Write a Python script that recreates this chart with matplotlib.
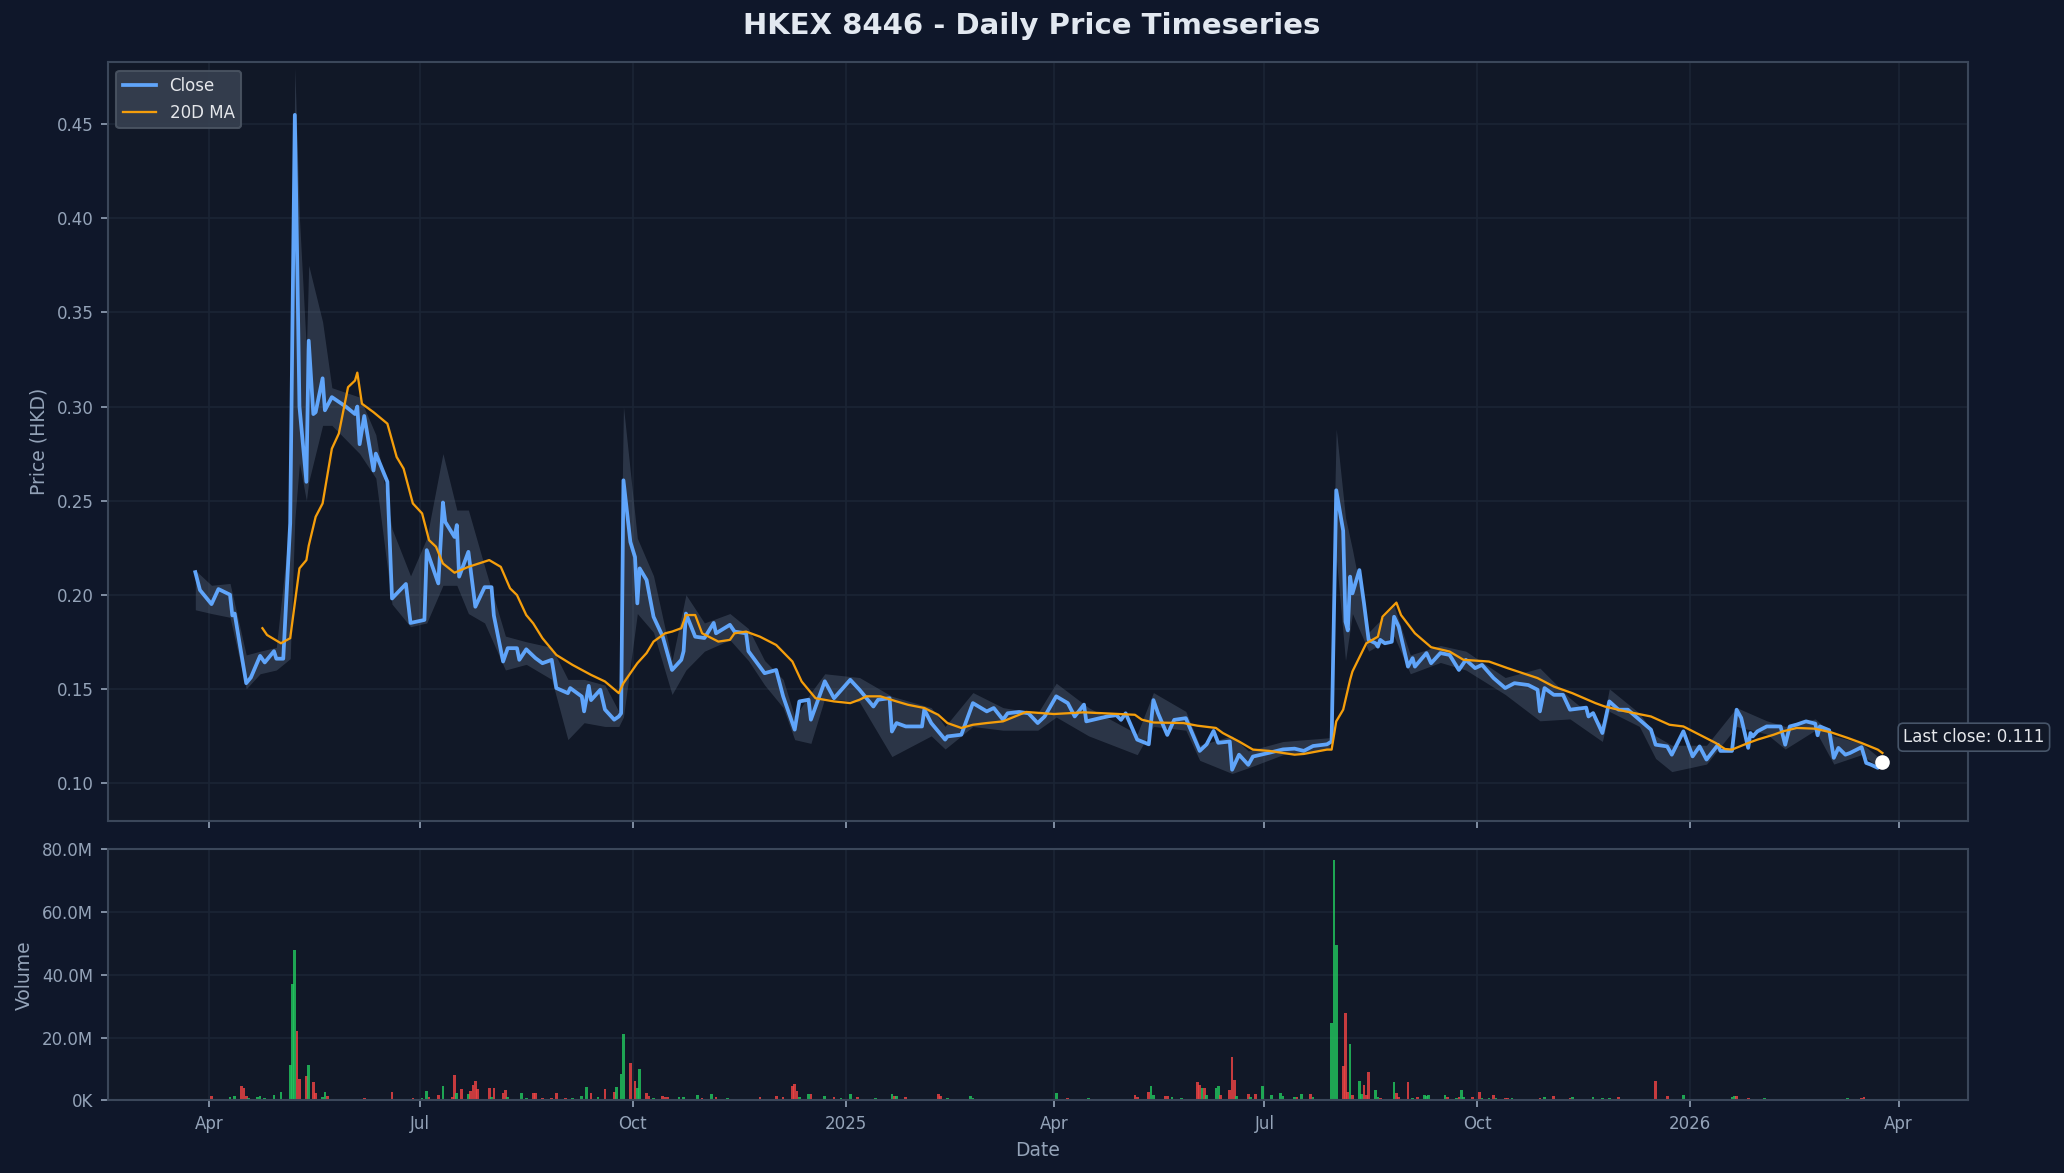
import pandas as pd
import matplotlib
matplotlib.use('Agg')
import matplotlib.pyplot as plt
import matplotlib.dates as mdates
from matplotlib.ticker import FuncFormatter

# ---- data ----
close_dates = [
    '2024-03-26', '2024-03-28', '2024-04-02', '2024-04-05', '2024-04-10', '2024-04-11', '2024-04-12',
    '2024-04-17', '2024-04-19', '2024-04-23', '2024-04-25', '2024-04-29', '2024-04-30', '2024-05-03',
    '2024-05-06', '2024-05-08', '2024-05-09', '2024-05-10', '2024-05-13', '2024-05-14', '2024-05-16',
    '2024-05-17', '2024-05-20', '2024-05-21', '2024-05-24', '2024-05-30', '2024-06-03', '2024-06-04',
    '2024-06-05', '2024-06-07', '2024-06-11', '2024-06-12', '2024-06-17', '2024-06-19', '2024-06-25',
    '2024-06-27', '2024-07-03', '2024-07-04', '2024-07-09', '2024-07-11', '2024-07-12', '2024-07-16',
    '2024-07-17', '2024-07-18', '2024-07-22', '2024-07-25', '2024-07-29', '2024-08-01', '2024-08-02',
    '2024-08-06', '2024-08-08', '2024-08-12', '2024-08-13', '2024-08-16', '2024-08-20', '2024-08-23',
    '2024-08-27', '2024-08-29', '2024-09-03', '2024-09-04', '2024-09-09', '2024-09-10', '2024-09-12',
    '2024-09-13', '2024-09-17', '2024-09-19', '2024-09-23', '2024-09-25', '2024-09-26', '2024-09-27',
    '2024-09-30', '2024-10-02', '2024-10-03', '2024-10-04', '2024-10-07', '2024-10-10', '2024-10-14',
    '2024-10-18', '2024-10-22', '2024-10-23', '2024-10-24', '2024-10-28', '2024-11-01', '2024-11-05',
    '2024-11-06', '2024-11-12', '2024-11-14', '2024-11-19', '2024-11-20', '2024-11-27', '2024-12-02',
    '2024-12-05', '2024-12-10', '2024-12-12', '2024-12-16', '2024-12-17', '2024-12-23', '2024-12-27',
    '2025-01-03', '2025-01-07', '2025-01-13', '2025-01-15', '2025-01-20', '2025-01-21', '2025-01-23',
    '2025-01-27', '2025-02-03', '2025-02-04', '2025-02-07', '2025-02-13', '2025-02-14', '2025-02-20',
    '2025-02-25', '2025-03-03', '2025-03-06', '2025-03-10', '2025-03-12', '2025-03-17', '2025-03-21',
    '2025-03-25', '2025-03-28', '2025-04-02', '2025-04-07', '2025-04-10', '2025-04-14', '2025-04-15',
    '2025-04-24', '2025-04-28', '2025-04-30', '2025-05-02', '2025-05-07', '2025-05-12', '2025-05-14',
    '2025-05-16', '2025-05-20', '2025-05-23', '2025-05-28', '2025-06-03', '2025-06-06', '2025-06-09',
    '2025-06-11', '2025-06-16', '2025-06-17', '2025-06-20', '2025-06-24', '2025-06-26', '2025-07-03',
    '2025-07-09', '2025-07-14', '2025-07-18', '2025-07-22', '2025-07-28', '2025-07-30', '2025-07-31',
    '2025-08-01', '2025-08-04', '2025-08-05', '2025-08-06', '2025-08-07', '2025-08-08', '2025-08-11',
    '2025-08-13', '2025-08-15', '2025-08-18', '2025-08-19', '2025-08-20', '2025-08-22', '2025-08-25',
    '2025-08-26', '2025-08-28', '2025-09-01', '2025-09-03', '2025-09-04', '2025-09-09', '2025-09-11',
    '2025-09-15', '2025-09-19', '2025-09-23', '2025-09-26', '2025-09-30', '2025-10-03', '2025-10-08',
    '2025-10-13', '2025-10-17', '2025-10-23', '2025-10-27', '2025-10-28', '2025-10-30', '2025-11-03',
    '2025-11-07', '2025-11-10', '2025-11-17', '2025-11-18', '2025-11-20', '2025-11-24', '2025-11-27',
    '2025-12-01', '2025-12-05', '2025-12-10', '2025-12-15', '2025-12-17', '2025-12-22', '2025-12-24',
    '2025-12-29', '2026-01-02', '2026-01-05', '2026-01-08', '2026-01-13', '2026-01-14', '2026-01-19',
    '2026-01-21', '2026-01-23', '2026-01-26', '2026-01-27', '2026-01-28', '2026-01-30', '2026-02-03',
    '2026-02-06', '2026-02-09', '2026-02-11', '2026-02-13', '2026-02-16', '2026-02-20', '2026-02-24',
    '2026-02-25', '2026-02-26', '2026-03-02', '2026-03-04', '2026-03-06', '2026-03-09', '2026-03-11',
    '2026-03-16', '2026-03-18', '2026-03-20', '2026-03-23', '2026-03-25',
]
close_px = [
    0.212, 0.2025, 0.195, 0.203, 0.200, 0.189, 0.190,
    0.153, 0.156, 0.1675, 0.164, 0.170, 0.166, 0.166,
    0.238, 0.455, 0.380, 0.300, 0.260, 0.335, 0.296,
    0.297, 0.315, 0.298, 0.305, 0.300, 0.296, 0.300,
    0.280, 0.295, 0.266, 0.275, 0.260, 0.198, 0.2057,
    0.185, 0.1866, 0.2237, 0.206, 0.249, 0.2387, 0.2307,
    0.237, 0.2096, 0.2228, 0.1936, 0.204, 0.204, 0.189,
    0.1645, 0.1716, 0.1716, 0.1654, 0.171, 0.1663, 0.1636,
    0.1654, 0.1504, 0.1477, 0.1504, 0.1459, 0.138, 0.1516,
    0.144, 0.1495, 0.139, 0.1336, 0.1353, 0.137, 0.2608,
    0.228, 0.220, 0.1954, 0.214, 0.2078, 0.1883, 0.1777,
    0.160, 0.1654, 0.170, 0.190, 0.1777, 0.177, 0.185,
    0.1795, 0.184, 0.1804, 0.1795, 0.170, 0.1583, 0.160,
    0.146, 0.1283, 0.1433, 0.1442, 0.1336, 0.154, 0.145,
    0.1548, 0.1495, 0.1406, 0.1442, 0.145, 0.1273, 0.1318,
    0.130, 0.130, 0.139, 0.1318, 0.123, 0.1247, 0.1256,
    0.1424, 0.138, 0.1398, 0.1336, 0.137, 0.1377, 0.137,
    0.1318, 0.1353, 0.146, 0.1424, 0.1353, 0.1416, 0.1327,
    0.1353, 0.136, 0.1335, 0.137, 0.123, 0.1205, 0.144,
    0.137, 0.1255, 0.1335, 0.1344, 0.117, 0.1205, 0.1276,
    0.1213, 0.122, 0.107, 0.115, 0.1096, 0.114, 0.116,
    0.1178, 0.1182, 0.117, 0.1196, 0.1205, 0.122, 0.190,
    0.2555, 0.234, 0.1857, 0.181, 0.2096, 0.2007, 0.2131,
    0.1954, 0.176, 0.1742, 0.1724, 0.176, 0.1742, 0.175,
    0.1883, 0.183, 0.1618, 0.1663, 0.1618, 0.169, 0.1636,
    0.169, 0.168, 0.160, 0.1654, 0.161, 0.1627, 0.1557,
    0.1504, 0.153, 0.152, 0.1495, 0.138, 0.1504, 0.1468,
    0.1468, 0.1389, 0.140, 0.1353, 0.1371, 0.1265, 0.1433,
    0.1389, 0.1389, 0.1336, 0.1283, 0.1203, 0.1194, 0.115,
    0.1274, 0.1141, 0.1194, 0.1124, 0.1203, 0.117, 0.117,
    0.1389, 0.1345, 0.1186, 0.1265, 0.1247, 0.1274, 0.130,
    0.130, 0.130, 0.1203, 0.130, 0.131, 0.1327, 0.1315,
    0.1253, 0.130, 0.128, 0.1133, 0.1186, 0.115, 0.1159,
    0.119, 0.1106, 0.1097, 0.108, 0.111,
]

ma_dates = [
    '2024-04-24', '2024-04-26', '2024-05-02', '2024-05-06', '2024-05-10', '2024-05-13', '2024-05-14',
    '2024-05-17', '2024-05-20', '2024-05-24', '2024-05-27', '2024-05-29', '2024-05-31', '2024-06-03',
    '2024-06-04', '2024-06-06', '2024-06-11', '2024-06-17', '2024-06-21', '2024-06-24', '2024-06-28',
    '2024-07-02', '2024-07-05', '2024-07-08', '2024-07-11', '2024-07-16', '2024-07-22', '2024-07-31',
    '2024-08-05', '2024-08-09', '2024-08-12', '2024-08-16', '2024-08-19', '2024-08-23', '2024-08-29',
    '2024-09-05', '2024-09-13', '2024-09-19', '2024-09-25', '2024-09-27', '2024-10-03', '2024-10-07',
    '2024-10-10', '2024-10-15', '2024-10-18', '2024-10-22', '2024-10-24', '2024-10-28', '2024-10-31',
    '2024-11-07', '2024-11-12', '2024-11-14', '2024-11-19', '2024-11-25', '2024-12-02', '2024-12-09',
    '2024-12-13', '2024-12-19', '2024-12-27', '2025-01-03', '2025-01-07', '2025-01-10', '2025-01-16',
    '2025-01-23', '2025-01-28', '2025-02-04', '2025-02-10', '2025-02-14', '2025-02-20', '2025-02-25',
    '2025-03-03', '2025-03-10', '2025-03-17', '2025-03-20', '2025-04-01', '2025-04-14', '2025-05-06',
    '2025-05-09', '2025-05-14', '2025-05-27', '2025-06-02', '2025-06-10', '2025-06-13', '2025-06-20',
    '2025-06-26', '2025-07-03', '2025-07-14', '2025-07-18', '2025-07-28', '2025-07-30', '2025-08-01',
    '2025-08-04', '2025-08-07', '2025-08-08', '2025-08-14', '2025-08-19', '2025-08-21', '2025-08-27',
    '2025-08-29', '2025-09-04', '2025-09-11', '2025-09-19', '2025-09-25', '2025-10-06', '2025-10-14',
    '2025-10-27', '2025-11-03', '2025-11-11', '2025-11-21', '2025-11-25', '2025-12-04', '2025-12-15',
    '2025-12-23', '2025-12-29', '2026-01-05', '2026-01-12', '2026-01-16', '2026-01-19', '2026-01-26',
    '2026-01-30', '2026-02-06', '2026-02-10', '2026-02-16', '2026-02-24', '2026-03-03', '2026-03-10',
    '2026-03-16', '2026-03-23', '2026-03-25',
]
ma_px = [
    0.1822, 0.1786, 0.1742, 0.1769, 0.214, 0.2184, 0.226,
    0.2414, 0.2485, 0.2776, 0.2856, 0.298, 0.3103, 0.3138,
    0.318, 0.3015, 0.297, 0.2909, 0.2732, 0.267, 0.2485,
    0.2432, 0.229, 0.2255, 0.2166, 0.2117, 0.2148, 0.2184,
    0.2148, 0.2034, 0.1998, 0.1892, 0.1848, 0.1769, 0.168,
    0.1627, 0.1574, 0.1539, 0.1477, 0.153, 0.1636, 0.169,
    0.1751, 0.1795, 0.1804, 0.1822, 0.1892, 0.1892, 0.1795,
    0.1751, 0.176, 0.1795, 0.1804, 0.1777, 0.1733, 0.1645,
    0.1539, 0.145, 0.1433, 0.1424, 0.1442, 0.146, 0.146,
    0.1433, 0.1415, 0.1398, 0.1362, 0.1318, 0.1292, 0.1309,
    0.1318, 0.1327, 0.1362, 0.1377, 0.1366, 0.1375, 0.1362,
    0.1336, 0.1321, 0.1318, 0.1304, 0.1292, 0.1265, 0.122,
    0.1177, 0.117, 0.115, 0.1154, 0.1177, 0.1177, 0.1327,
    0.1389, 0.1548, 0.1592, 0.1742, 0.1777, 0.1883, 0.1958,
    0.1892, 0.1795, 0.1721, 0.1698, 0.1654, 0.1645, 0.161,
    0.1557, 0.1512, 0.1477, 0.1424, 0.1406, 0.138, 0.1353,
    0.1309, 0.130, 0.1256, 0.1212, 0.118, 0.1177, 0.1212,
    0.123, 0.1256, 0.1274, 0.1292, 0.1288, 0.1268, 0.1239,
    0.1212, 0.1177, 0.1159,
]

# daily high/low range (shaded band)
band_dates = [
    '2024-03-26', '2024-04-02', '2024-04-10', '2024-04-17', '2024-04-23', '2024-04-30', '2024-05-06',
    '2024-05-08', '2024-05-10', '2024-05-13', '2024-05-14', '2024-05-20', '2024-05-24', '2024-06-05',
    '2024-06-12', '2024-06-19', '2024-06-27', '2024-07-04', '2024-07-11', '2024-07-17', '2024-07-22',
    '2024-07-29', '2024-08-07', '2024-08-16', '2024-08-27', '2024-09-03', '2024-09-10', '2024-09-19',
    '2024-09-25', '2024-09-27', '2024-10-03', '2024-10-10', '2024-10-18', '2024-10-24', '2024-11-01',
    '2024-11-12', '2024-11-20', '2024-11-27', '2024-12-05', '2024-12-10', '2024-12-17', '2024-12-23',
    '2025-01-07', '2025-01-21', '2025-02-07', '2025-02-13', '2025-02-25', '2025-03-10', '2025-03-25',
    '2025-04-02', '2025-04-16', '2025-05-07', '2025-05-14', '2025-05-28', '2025-06-03', '2025-06-17',
    '2025-06-24', '2025-07-09', '2025-07-29', '2025-08-01', '2025-08-05', '2025-08-08', '2025-08-15',
    '2025-08-26', '2025-09-02', '2025-09-15', '2025-09-26', '2025-10-13', '2025-10-28', '2025-11-10',
    '2025-11-24', '2025-11-27', '2025-12-10', '2025-12-17', '2025-12-24', '2026-01-08', '2026-01-21',
    '2026-02-03', '2026-02-11', '2026-02-24', '2026-03-04', '2026-03-16', '2026-03-25',
]
band_lo = [
    0.192, 0.190, 0.188, 0.150, 0.158, 0.160, 0.166,
    0.240, 0.270, 0.250, 0.260, 0.290, 0.290, 0.275,
    0.262, 0.195, 0.183, 0.185, 0.205, 0.205, 0.190,
    0.185, 0.160, 0.163, 0.155, 0.123, 0.132, 0.130,
    0.130, 0.135, 0.190, 0.180, 0.147, 0.160, 0.170,
    0.176, 0.165, 0.152, 0.140, 0.123, 0.121, 0.145,
    0.143, 0.114, 0.125, 0.118, 0.130, 0.128, 0.128,
    0.135, 0.125, 0.115, 0.130, 0.128, 0.112, 0.105,
    0.108, 0.115, 0.118, 0.220, 0.165, 0.190, 0.170,
    0.178, 0.158, 0.164, 0.160, 0.147, 0.133, 0.134,
    0.122, 0.138, 0.130, 0.113, 0.106, 0.110, 0.130,
    0.126, 0.118, 0.128, 0.110, 0.115, 0.107,
]
band_hi = [
    0.213, 0.205, 0.206, 0.168, 0.170, 0.172, 0.240,
    0.480, 0.400, 0.330, 0.375, 0.345, 0.310, 0.305,
    0.285, 0.235, 0.210, 0.230, 0.275, 0.245, 0.245,
    0.215, 0.178, 0.175, 0.172, 0.155, 0.155, 0.152,
    0.138, 0.300, 0.230, 0.210, 0.165, 0.200, 0.185,
    0.190, 0.182, 0.165, 0.155, 0.135, 0.148, 0.158,
    0.156, 0.146, 0.140, 0.130, 0.148, 0.140, 0.137,
    0.153, 0.140, 0.126, 0.148, 0.138, 0.120, 0.125,
    0.117, 0.122, 0.124, 0.288, 0.241, 0.224, 0.180,
    0.194, 0.168, 0.173, 0.170, 0.156, 0.161, 0.145,
    0.131, 0.150, 0.137, 0.125, 0.120, 0.120, 0.140,
    0.133, 0.130, 0.134, 0.125, 0.121, 0.112,
]

vol_dates = [
    '2024-03-27', '2024-04-02', '2024-04-08', '2024-04-10', '2024-04-12', '2024-04-15', '2024-04-16',
    '2024-04-17', '2024-04-18', '2024-04-22', '2024-04-23', '2024-04-25', '2024-04-29', '2024-05-02',
    '2024-05-06', '2024-05-07', '2024-05-08', '2024-05-09', '2024-05-10', '2024-05-13', '2024-05-14',
    '2024-05-16', '2024-05-17', '2024-05-20', '2024-05-21', '2024-05-22', '2024-05-27', '2024-05-30',
    '2024-06-03', '2024-06-07', '2024-06-13', '2024-06-17', '2024-06-19', '2024-06-26', '2024-06-28',
    '2024-07-02', '2024-07-04', '2024-07-05', '2024-07-09', '2024-07-11', '2024-07-15', '2024-07-16',
    '2024-07-17', '2024-07-19', '2024-07-22', '2024-07-23', '2024-07-24', '2024-07-25', '2024-07-26',
    '2024-07-31', '2024-08-01', '2024-08-02', '2024-08-06', '2024-08-07', '2024-08-08', '2024-08-14',
    '2024-08-16', '2024-08-19', '2024-08-20', '2024-08-23', '2024-08-27', '2024-08-29', '2024-09-02',
    '2024-09-05', '2024-09-09', '2024-09-11', '2024-09-13', '2024-09-16', '2024-09-19', '2024-09-23',
    '2024-09-24', '2024-09-26', '2024-09-27', '2024-09-30', '2024-10-02', '2024-10-03', '2024-10-04',
    '2024-10-07', '2024-10-08', '2024-10-10', '2024-10-14', '2024-10-15', '2024-10-16', '2024-10-21',
    '2024-10-23', '2024-10-29', '2024-10-31', '2024-11-04', '2024-11-06', '2024-11-11', '2024-11-19',
    '2024-11-25', '2024-11-26', '2024-12-02', '2024-12-05', '2024-12-09', '2024-12-10', '2024-12-11',
    '2024-12-12', '2024-12-16', '2024-12-17', '2024-12-23', '2024-12-27', '2024-12-30', '2025-01-03',
    '2025-01-06', '2025-01-14', '2025-01-21', '2025-01-22', '2025-01-23', '2025-01-27', '2025-02-04',
    '2025-02-06', '2025-02-10', '2025-02-11', '2025-02-14', '2025-02-24', '2025-02-25', '2025-03-11',
    '2025-03-24', '2025-03-25', '2025-04-02', '2025-04-07', '2025-04-10', '2025-04-16', '2025-04-24',
    '2025-05-06', '2025-05-07', '2025-05-12', '2025-05-13', '2025-05-14', '2025-05-19', '2025-05-20',
    '2025-05-22', '2025-05-26', '2025-06-02', '2025-06-03', '2025-06-04', '2025-06-05', '2025-06-06',
    '2025-06-10', '2025-06-11', '2025-06-12', '2025-06-16', '2025-06-17', '2025-06-18', '2025-06-19',
    '2025-06-24', '2025-06-25', '2025-06-27', '2025-06-30', '2025-07-04', '2025-07-08', '2025-07-09',
    '2025-07-14', '2025-07-15', '2025-07-17', '2025-07-21', '2025-07-22', '2025-07-28', '2025-07-30',
    '2025-07-31', '2025-08-01', '2025-08-04', '2025-08-05', '2025-08-06', '2025-08-07', '2025-08-08',
    '2025-08-11', '2025-08-12', '2025-08-13', '2025-08-14', '2025-08-15', '2025-08-18', '2025-08-19',
    '2025-08-20', '2025-08-26', '2025-08-27', '2025-08-28', '2025-09-01', '2025-09-03', '2025-09-05',
    '2025-09-08', '2025-09-09', '2025-09-10', '2025-09-12', '2025-09-17', '2025-09-18', '2025-09-22',
    '2025-09-23', '2025-09-24', '2025-09-25', '2025-09-29', '2025-10-02', '2025-10-03', '2025-10-06',
    '2025-10-08', '2025-10-09', '2025-10-13', '2025-10-14', '2025-10-16', '2025-10-28', '2025-10-30',
    '2025-11-03', '2025-11-10', '2025-11-11', '2025-11-13', '2025-11-18', '2025-11-20', '2025-11-24',
    '2025-11-25', '2025-11-27', '2025-12-01', '2025-12-15', '2025-12-17', '2025-12-19', '2025-12-22',
    '2025-12-29', '2025-12-30', '2026-01-07', '2026-01-19', '2026-01-20', '2026-01-21', '2026-01-26',
    '2026-01-28', '2026-02-02', '2026-02-11', '2026-03-02', '2026-03-05', '2026-03-10', '2026-03-16',
    '2026-03-17',
]
vol_m = [
    0.4, 1.3, 0.5, 1.0, 1.4, 4.5, 4.0,
    1.5, 0.8, 1.2, 1.4, 0.8, 1.7, 2.7,
    11.3, 37.0, 48.0, 22.0, 6.8, 7.8, 11.3,
    5.9, 2.3, 1.0, 2.5, 1.5, 0.3, 0.3,
    0.4, 0.6, 0.3, 0.3, 2.5, 0.5, 0.6,
    0.8, 2.8, 1.0, 1.7, 4.4, 1.0, 8.2,
    2.3, 3.6, 2.0, 2.8, 5.0, 6.1, 3.6,
    3.8, 1.2, 3.8, 2.3, 3.2, 1.2, 2.2,
    0.8, 2.2, 2.2, 0.8, 0.8, 2.2, 0.8,
    0.8, 1.5, 4.2, 2.2, 0.9, 3.6, 2.7,
    4.2, 8.4, 21.0, 11.8, 6.0, 4.0, 10.0,
    2.4, 1.5, 0.8, 1.5, 1.0, 1.2, 1.1,
    1.2, 1.8, 0.6, 2.0, 0.9, 0.8, 0.5,
    1.0, 0.5, 1.5, 1.0, 4.4, 5.3, 3.0,
    0.9, 2.1, 2.1, 1.5, 0.9, 0.7, 2.1,
    0.9, 0.6, 2.1, 1.3, 1.3, 1.0, 0.3,
    0.3, 2.1, 1.3, 0.6, 1.5, 0.7, 0.3,
    0.5, 0.5, 2.3, 0.8, 0.3, 0.8, 0.3,
    1.7, 1.2, 2.6, 4.6, 1.7, 1.4, 1.4,
    1.0, 0.6, 5.7, 4.8, 4.0, 3.8, 1.7,
    3.8, 4.6, 1.7, 3.3, 13.7, 6.5, 1.3,
    2.1, 1.1, 2.1, 4.4, 1.8, 2.3, 1.5,
    0.9, 0.9, 2.1, 2.0, 0.9, 0.3, 24.7,
    76.6, 49.6, 11.0, 27.8, 2.5, 17.9, 1.8,
    6.0, 2.0, 4.8, 1.8, 9.0, 3.4, 1.0,
    0.8, 5.7, 2.3, 0.9, 5.8, 0.8, 0.9,
    1.6, 1.3, 1.8, 0.4, 1.8, 1.0, 0.8,
    1.2, 3.2, 1.2, 0.9, 2.5, 0.8, 0.6,
    1.7, 0.6, 0.7, 0.7, 0.7, 0.6, 1.1,
    1.3, 0.6, 1.0, 0.4, 0.3, 0.9, 0.8,
    0.5, 0.8, 1.0, 0.3, 6.0, 0.3, 1.5,
    1.7, 0.5, 0.3, 1.2, 1.3, 1.5, 0.6,
    0.3, 0.6, 0.3, 0.3, 0.3, 0.6, 0.6,
    1.1,
]
vol_up = [
    0, 0, 1, 1, 1, 0, 0,
    0, 1, 1, 1, 1, 1, 1,
    1, 1, 1, 0, 0, 0, 1,
    0, 0, 1, 1, 0, 1, 0,
    1, 0, 0, 1, 0, 0, 0,
    1, 1, 0, 0, 1, 0, 0,
    1, 0, 1, 0, 0, 0, 0,
    0, 1, 0, 0, 0, 1, 1,
    1, 0, 0, 0, 0, 0, 0,
    1, 1, 1, 0, 1, 0, 0,
    1, 1, 1, 0, 0, 1, 1,
    0, 0, 1, 0, 0, 0, 1,
    1, 1, 0, 1, 0, 1, 1,
    0, 1, 0, 0, 0, 0, 0,
    1, 1, 0, 1, 0, 1, 1,
    0, 1, 1, 0, 1, 0, 1,
    1, 0, 0, 1, 1, 1, 0,
    1, 0, 1, 0, 0, 1, 1,
    0, 0, 0, 1, 1, 0, 0,
    1, 1, 0, 0, 1, 0, 1,
    1, 1, 0, 0, 0, 0, 1,
    0, 1, 0, 1, 1, 1, 1,
    1, 0, 1, 0, 1, 1, 1,
    1, 1, 0, 0, 0, 1, 0,
    1, 1, 0, 0, 0, 1, 1,
    0, 1, 0, 0, 0, 1, 0,
    1, 1, 1, 1, 1, 0, 1,
    0, 1, 1, 0, 0, 1, 1,
    0, 1, 0, 0, 1, 0, 1,
    0, 0, 1, 1, 0, 1, 1,
    0, 1, 0, 0, 0, 0, 0,
    1, 0, 0, 1, 1, 0, 0,
    0, 1, 0, 0, 0, 1, 0,
    0,
]

# ---- style ----
BG = '#0f172a'
PANEL = '#111827'
SPINE = '#3b475a'
GRID = '#1b2535'
MUTED = '#94a3b8'
BLUE = '#60a5fa'
AMBER = '#f59e0b'

close = pd.Series(close_px, index=pd.to_datetime(close_dates))
ma = pd.Series(ma_px, index=pd.to_datetime(ma_dates))
band = pd.DataFrame({'lo': band_lo, 'hi': band_hi}, index=pd.to_datetime(band_dates))
vol = pd.DataFrame({'v': [v * 1e6 for v in vol_m], 'up': vol_up}, index=pd.to_datetime(vol_dates))

fig = plt.figure(figsize=(13.76, 7.82), dpi=150, facecolor=BG)
ax = fig.add_axes([0.0523, 0.300, 0.9012, 0.647])
axv = fig.add_axes([0.0523, 0.062, 0.9012, 0.214], sharex=ax)

for a in (ax, axv):
    a.set_facecolor(PANEL)
    for s in a.spines.values():
        s.set_color(SPINE)
        s.set_linewidth(1.0)
    a.grid(True, color=GRID, linewidth=0.8)
    a.set_axisbelow(True)
    a.tick_params(colors=MUTED, labelsize=8, length=3.5, width=0.8)

# price panel
ax.fill_between(band.index, band['lo'], band['hi'], color='#64748b', alpha=0.32, linewidth=0)
ax.plot(close.index, close.values, color=BLUE, linewidth=1.8, label='Close', zorder=3)
ax.plot(ma.index, ma.values, color=AMBER, linewidth=1.1, label='20D MA', zorder=4)

last_d, last_v = close.index[-1], close.values[-1]
ax.plot([last_d], [last_v], 'o', color='white', markersize=6, zorder=5)
ax.annotate(f'Last close: {last_v:.3f}', xy=(last_d, last_v), xytext=(10, 12),
            textcoords='offset points', va='center', ha='left', fontsize=8, color='#e5e7eb',
            annotation_clip=False,
            bbox=dict(boxstyle='round,pad=0.3', fc=PANEL, ec='#475569', lw=0.8))

ax.set_ylim(0.0797, 0.483)
ax.yaxis.set_major_formatter(FuncFormatter(lambda v, p: f'{v:.2f}'))
ax.set_ylabel('Price (HKD)', color=MUTED, fontsize=9)
ax.tick_params(labelbottom=False)
leg = ax.legend(loc='upper left', fontsize=8, facecolor='#374151', edgecolor='#4b5563',
                framealpha=0.9, labelcolor='#e5e7eb')

# volume panel
colors = ['#22c55e' if u else '#ef4444' for u in vol['up']]
axv.bar(vol.index, vol['v'], width=1.15, color=colors, alpha=0.82, linewidth=0)
axv.set_ylim(0, 80e6)
axv.set_yticks([0, 20e6, 40e6, 60e6, 80e6])
axv.yaxis.set_major_formatter(FuncFormatter(
    lambda v, p: f'{v / 1e6:.1f}M' if v >= 1e6 else f'{v / 1e3:.0f}K'))
axv.set_ylabel('Volume', color=MUTED, fontsize=9)
axv.set_xlabel('Date', color=MUTED, fontsize=9)

axv.xaxis.set_major_locator(mdates.MonthLocator(bymonth=[1, 4, 7, 10]))
axv.xaxis.set_major_formatter(FuncFormatter(
    lambda x, p: str(mdates.num2date(x).year) if mdates.num2date(x).month == 1
    else mdates.num2date(x).strftime('%b')))
axv.set_xlim(pd.Timestamp('2024-02-17 06:00'), pd.Timestamp('2026-05-01'))

fig.suptitle('HKEX 8446 - Daily Price Timeseries', color='#e2e8f0', fontsize=14,
             fontweight='bold', y=0.978, va='center')

fig.savefig('out.png', dpi=150, facecolor=BG)
